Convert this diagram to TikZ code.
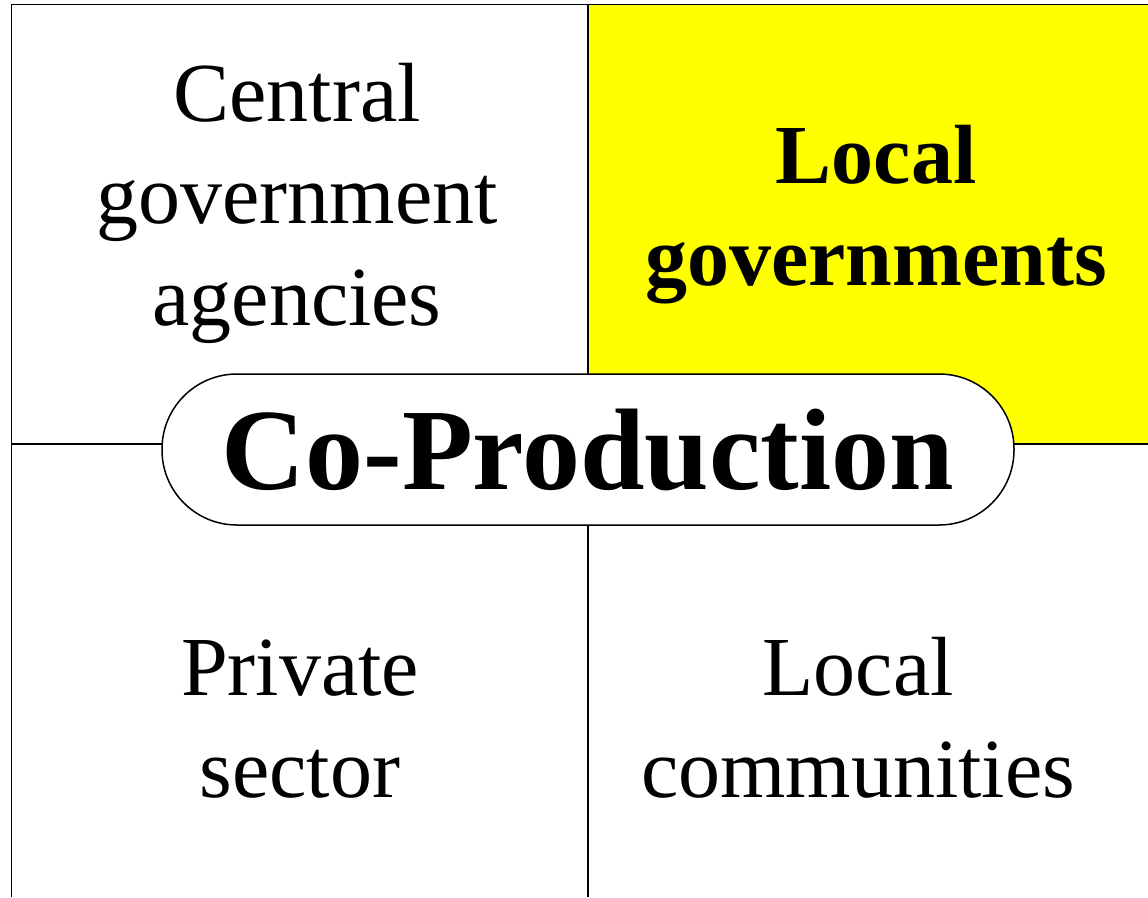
\documentclass[tikz,border=0pt]{standalone}
\usepackage{fontspec}
\setmainfont{Liberation Serif}
\definecolor{cellyellow}{RGB}{255,255,0}
\begin{document}
\begin{tikzpicture}[x=1pt,y=-1pt,
  gridline/.style={draw=black,line width=1.8pt},
  cell/.style={align=center,font=\fontsize{84}{102}\selectfont,inner sep=0pt,anchor=base},
  boldcell/.style={cell,font=\fontsize{84}{102}\selectfont\bfseries},
  pill/.style={draw=black,line width=1.5pt,fill=white,rounded corners=75pt,
    minimum width=852pt,minimum height=151pt,inner sep=0pt,
    font=\fontsize{116}{120}\selectfont\bfseries}]
\useasboundingbox (0,0) rectangle (1148,897);
\fill[cellyellow] (588,4.5) rectangle (1148,444);
\coordinate (tl) at (11.5,4.5);
\coordinate (tr) at (1148,4.5);
\coordinate (bl) at (11.5,897);
\coordinate (mt) at (588,4.5);
\coordinate (mb) at (588,897);
\coordinate (ml) at (11.5,444);
\coordinate (mr) at (1148,444);
\draw[gridline] (bl) -- (tl) -- (tr);
\draw[gridline] (mt) -- (mb);
\draw[gridline] (ml) -- (mr);
\node[pill] (cp) at (588,449.5) {Co-Production};
\node[cell] (cga) at (297,325) {Central\\government\\agencies};
\node[boldcell] (lg) at (876,285) {Local\\governments};
\node[cell] (ps) at (300,797) {Private\\sector};
\node[cell] (lc) at (858,797) {Local\\communities};
\end{tikzpicture}
\end{document}
